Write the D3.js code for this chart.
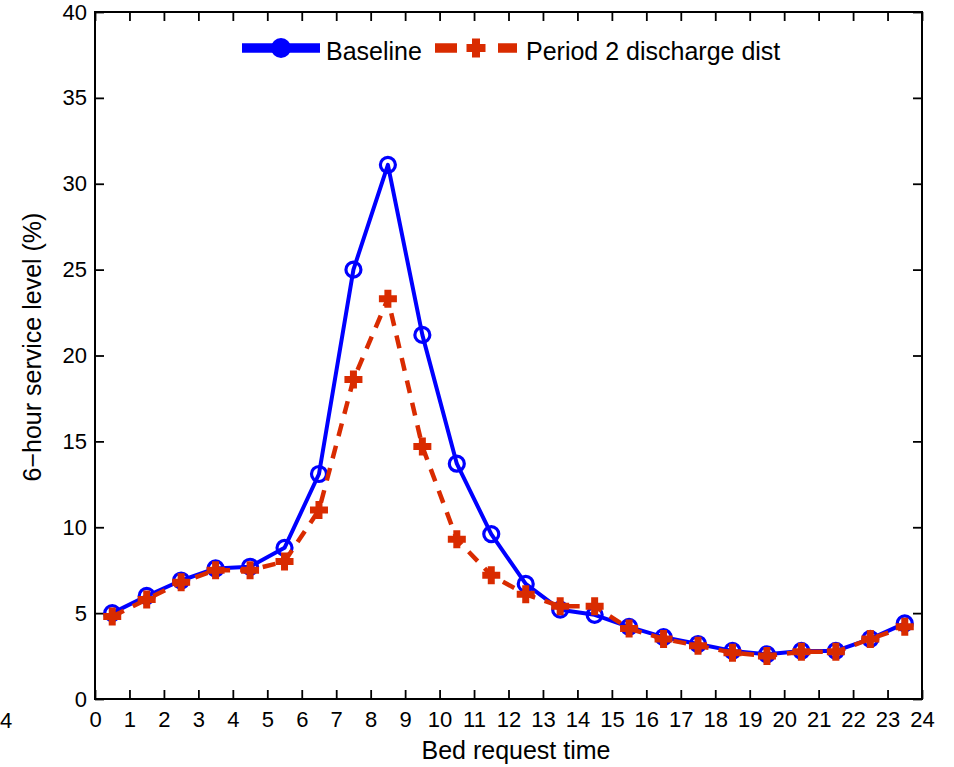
<!DOCTYPE html>
<html>
<head>
<meta charset="utf-8">
<script src="https://cdn.jsdelivr.net/npm/d3@7"></script>
<style>
  html, body { margin: 0; padding: 0; background: #fff; }
  svg { display: block; font-family: "Liberation Sans", Arial, sans-serif; }
</style>
</head>
<body>
<svg id="chart" width="954" height="767"></svg>
<script>
// Bed request hour (bin centres) and 6-hour service level (%) for each scenario
const requestHours = [0.5, 1.5, 2.5, 3.5, 4.5, 5.5, 6.5, 7.5, 8.5, 9.5, 10.5, 11.5,
                      12.5, 13.5, 14.5, 15.5, 16.5, 17.5, 18.5, 19.5, 20.5, 21.5, 22.5, 23.5];
const baseline = [5.0, 6.0, 6.9, 7.6, 7.7, 8.8, 13.1, 25.0, 31.1, 21.2, 13.7, 9.6,
                  6.7, 5.2, 4.9, 4.2, 3.6, 3.2, 2.8, 2.6, 2.8, 2.8, 3.5, 4.4];
const period2 = [4.8, 5.8, 6.8, 7.5, 7.5, 8.0, 11.0, 18.6, 23.3, 14.7, 9.3, 7.2,
                 6.1, 5.4, 5.4, 4.1, 3.5, 3.1, 2.7, 2.5, 2.75, 2.75, 3.5, 4.2];
const xTicks = [0, 1, 2, 3, 4, 5, 6, 7, 8, 9, 10, 11, 12, 13, 14, 15, 16, 17, 18, 19, 20, 21, 22, 23, 24];
const yTicks = [0, 5, 10, 15, 20, 25, 30, 35, 40];
const seriesNames = ["Baseline", "Period 2 discharge dist"];

const BLUE = "#0000ff";
const RED = "#d92b00";

const svg = d3.select("#chart");
const plotL = 95, plotR = 922, plotT = 12, plotB = 699;

const x = d3.scaleLinear().domain([0, 24]).range([plotL, plotR]);
const y = d3.scaleLinear().domain([0, 40]).range([plotB, plotT]);

// Axes with inward ticks on all four sides
const axes = svg.append("g");
const tickLen = 9;

axes.append("g")
  .attr("transform", `translate(0,${plotB})`)
  .call(d3.axisBottom(x).tickValues(xTicks).tickSize(-tickLen).tickPadding(12).tickFormat(d3.format("d")))
  .call(g => g.select(".domain").remove());

axes.append("g")
  .attr("transform", `translate(0,${plotT})`)
  .call(d3.axisTop(x).tickValues(xTicks).tickSize(-tickLen).tickFormat(""))
  .call(g => g.select(".domain").remove());

axes.append("g")
  .attr("transform", `translate(${plotL},0)`)
  .call(d3.axisLeft(y).tickValues(yTicks).tickSize(-tickLen).tickPadding(8).tickFormat(d3.format("d")))
  .call(g => g.select(".domain").remove());

axes.append("g")
  .attr("transform", `translate(${plotR},0)`)
  .call(d3.axisRight(y).tickValues(yTicks).tickSize(-tickLen).tickFormat(""))
  .call(g => g.select(".domain").remove());

axes.selectAll(".tick line").attr("stroke", "#000").attr("stroke-width", 1.8);
axes.selectAll(".tick text")
  .attr("fill", "#000")
  .style("font-size", "22px")
  .style("font-family", "'Liberation Sans', Arial, sans-serif");

// Plot box
svg.append("rect")
  .attr("x", plotL).attr("y", plotT)
  .attr("width", plotR - plotL).attr("height", plotB - plotT)
  .attr("fill", "none").attr("stroke", "#000").attr("stroke-width", 2);

// Axis labels
svg.append("text")
  .attr("x", 516).attr("y", 759)
  .attr("text-anchor", "middle")
  .style("font-size", "25px")
  .text("Bed request time");

svg.append("text")
  .attr("transform", "translate(41,347) rotate(-90)")
  .attr("text-anchor", "middle")
  .style("font-size", "25px")
  .text("6\u2212hour service level (%)");

// Stray tick label at the far left edge
svg.append("text")
  .attr("x", 0).attr("y", 728)
  .attr("text-anchor", "start")
  .style("font-size", "22px")
  .text("4");

const line = d3.line().x((d, i) => x(requestHours[i])).y(d => y(d));

// Plus-marker path centred at the origin
function plusPath(size, arm) {
  const s = size / 2, a = arm / 2;
  return `M${-a},${-s}H${a}V${-a}H${s}V${a}H${a}V${s}H${-a}V${a}H${-s}V${-a}H${-a}Z`;
}

// Baseline: solid blue line, open circle markers
const gBase = svg.append("g");
gBase.append("path")
  .datum(baseline)
  .attr("d", line)
  .attr("fill", "none")
  .attr("stroke", BLUE)
  .attr("stroke-width", 4)
  .attr("stroke-linejoin", "round");
gBase.selectAll("circle")
  .data(baseline)
  .join("circle")
  .attr("cx", (d, i) => x(requestHours[i]))
  .attr("cy", d => y(d))
  .attr("r", 7.5)
  .attr("fill", "none")
  .attr("stroke", BLUE)
  .attr("stroke-width", 3.2);

// Period 2 discharge distribution: dashed red line, plus markers
const gP2 = svg.append("g");
gP2.append("path")
  .datum(period2)
  .attr("d", line)
  .attr("fill", "none")
  .attr("stroke", RED)
  .attr("stroke-width", 4.5)
  .attr("stroke-dasharray", "13 10");
gP2.selectAll("path.marker")
  .data(period2)
  .join("path")
  .attr("class", "marker")
  .attr("transform", (d, i) => `translate(${x(requestHours[i])},${y(d)})`)
  .attr("d", plusPath(18, 7))
  .attr("fill", RED);

// Legend
const lg = svg.append("g");
const legY = 48;
lg.append("line")
  .attr("x1", 242).attr("x2", 320).attr("y1", legY).attr("y2", legY)
  .attr("stroke", BLUE).attr("stroke-width", 9.5);
lg.append("circle")
  .attr("cx", 281).attr("cy", legY).attr("r", 10)
  .attr("fill", BLUE);
lg.append("text")
  .attr("x", 326).attr("y", legY + 12)
  .style("font-size", "25px")
  .text(seriesNames[0]);

lg.append("line")
  .attr("x1", 435).attr("x2", 457).attr("y1", legY).attr("y2", legY)
  .attr("stroke", RED).attr("stroke-width", 9.5);
lg.append("line")
  .attr("x1", 498).attr("x2", 517).attr("y1", legY).attr("y2", legY)
  .attr("stroke", RED).attr("stroke-width", 9.5);
lg.append("path")
  .attr("transform", `translate(476,${legY})`)
  .attr("d", plusPath(19, 8))
  .attr("fill", RED);
lg.append("text")
  .attr("x", 526).attr("y", legY + 12)
  .style("font-size", "25px")
  .text(seriesNames[1]);
</script>
</body>
</html>
